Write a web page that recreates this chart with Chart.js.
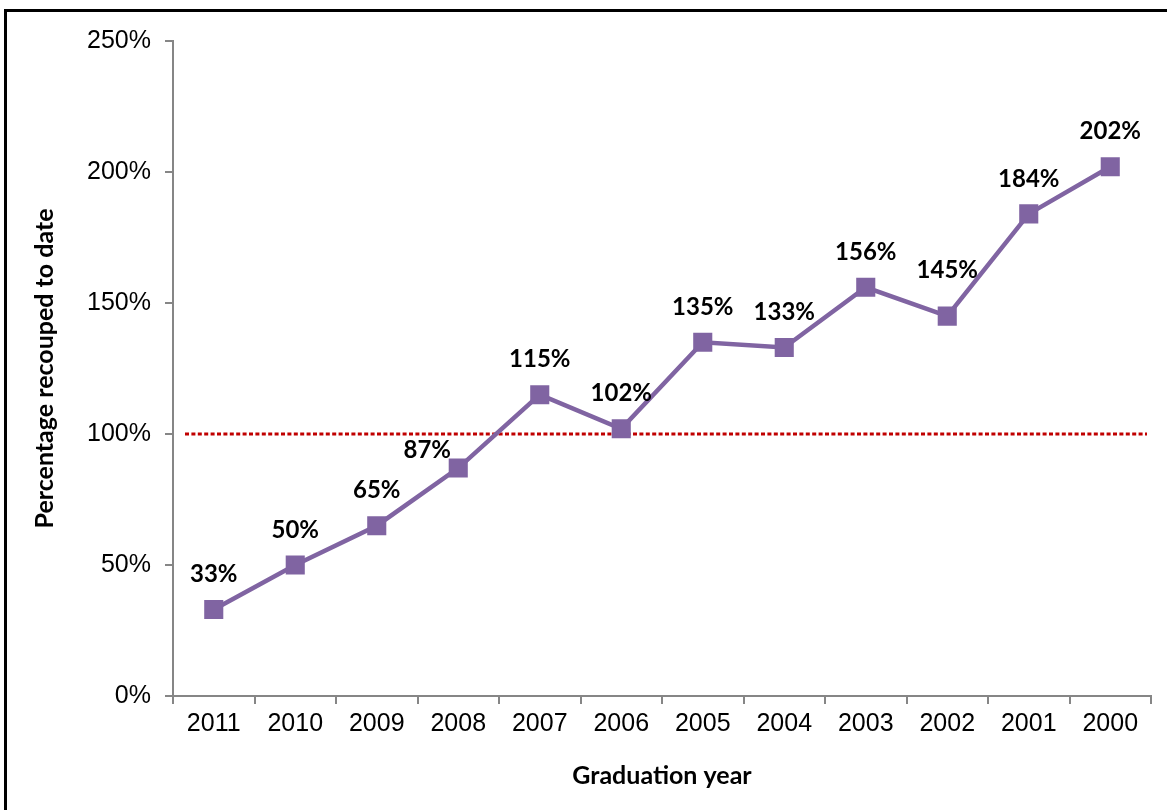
<!DOCTYPE html>
<html>
<head>
<meta charset="utf-8">
<script src="https://cdn.jsdelivr.net/npm/chart.js@4"></script>
<style>
  body { margin: 0; background: #fff; overflow: hidden; }
  #wrap { position: relative; width: 1167px; height: 810px; }
  #frame { position: absolute; left: 4px; top: 9px; width: 1200px; height: 900px;
           border-left: 3px solid #000; border-top: 3px solid #000; pointer-events: none; }
</style>
</head>
<body>
<div id="wrap">
  <canvas id="recoupChart" width="1167" height="810"></canvas>
  <div id="frame"></div>
</div>
<script>
const years = ["2011", "2010", "2009", "2008", "2007", "2006", "2005", "2004", "2003", "2002", "2001", "2000"];
const recouped = [33, 50, 65, 87, 115, 102, 135, 133, 156, 145, 184, 202];
const yMin = 0;
const yMax = 250;
const yStep = 50;
const breakEven = 100;

const purple = "#8064A2";
const axisGrey = "#868686";

// dotted 100% line, drawn under the series
const breakEvenLine = {
  id: "breakEvenLine",
  beforeDatasetsDraw(chart) {
    const ctx = chart.ctx;
    const area = chart.chartArea;
    const y = chart.scales.y.getPixelForValue(breakEven);
    ctx.save();
    ctx.strokeStyle = "#C00000";
    ctx.lineWidth = 3;
    ctx.setLineDash([4, 2.4]);
    ctx.beginPath();
    ctx.moveTo(area.left + 12, y);
    ctx.lineTo(area.right - 4, y);
    ctx.stroke();
    ctx.restore();
  }
};

// value labels above each point (a couple nudged like in the original)
const nudge = { 3: [-31, 17], 9: [0, -11] };
const pointLabels = {
  id: "pointLabels",
  afterDatasetsDraw(chart) {
    const ctx = chart.ctx;
    const meta = chart.getDatasetMeta(0);
    ctx.save();
    ctx.font = "bold 24px Lato";
    ctx.fillStyle = "#000";
    ctx.textAlign = "center";
    ctx.textBaseline = "middle";
    meta.data.forEach((pt, i) => {
      const n = nudge[i] || [0, 0];
      ctx.fillText(recouped[i] + "%", pt.x + n[0], pt.y - 35 + n[1]);
    });
    ctx.restore();
  }
};

new Chart(document.getElementById("recoupChart"), {
  type: "line",
  data: {
    labels: years,
    datasets: [{
      data: recouped,
      borderColor: purple,
      backgroundColor: purple,
      borderWidth: 4.5,
      pointStyle: "rect",
      pointRadius: 13.5,
      pointHoverRadius: 13.5,
      pointBorderWidth: 0,
      tension: 0
    }]
  },
  options: {
    responsive: false,
    devicePixelRatio: 1,
    animation: false,
    layout: { padding: { top: 41, right: 16, left: 0, bottom: 0 } },
    plugins: {
      legend: { display: false },
      tooltip: { enabled: false }
    },
    scales: {
      x: {
        type: "category",
        offset: true,
        afterFit: s => { s.height = 114; },
        grid: { offset: true, drawOnChartArea: false, drawTicks: true, tickLength: 8, color: axisGrey, lineWidth: 2 },
        border: { color: axisGrey, width: 2 },
        ticks: { color: "#000", font: { family: "Liberation Sans", size: 25 }, padding: 5, maxRotation: 0 },
        title: { display: true, text: "Graduation year", color: "#000",
                 font: { family: "Lato", weight: "bold", size: 25 }, padding: { top: 0, bottom: 19 } }
      },
      y: {
        min: yMin,
        max: yMax,
        afterFit: s => { s.width = 173; },
        grid: { drawOnChartArea: false, drawTicks: true, tickLength: 8, color: axisGrey, lineWidth: 2 },
        border: { color: axisGrey, width: 2 },
        ticks: { stepSize: yStep, color: "#000", font: { family: "Liberation Sans", size: 25 }, padding: 14,
                 callback: v => v + "%" },
        title: { display: true, text: "Percentage recouped to date", color: "#000",
                 font: { family: "Lato", weight: "bold", size: 25 }, padding: { top: 30, bottom: 0 } }
      }
    }
  },
  plugins: [breakEvenLine, pointLabels]
});
</script>
</body>
</html>
